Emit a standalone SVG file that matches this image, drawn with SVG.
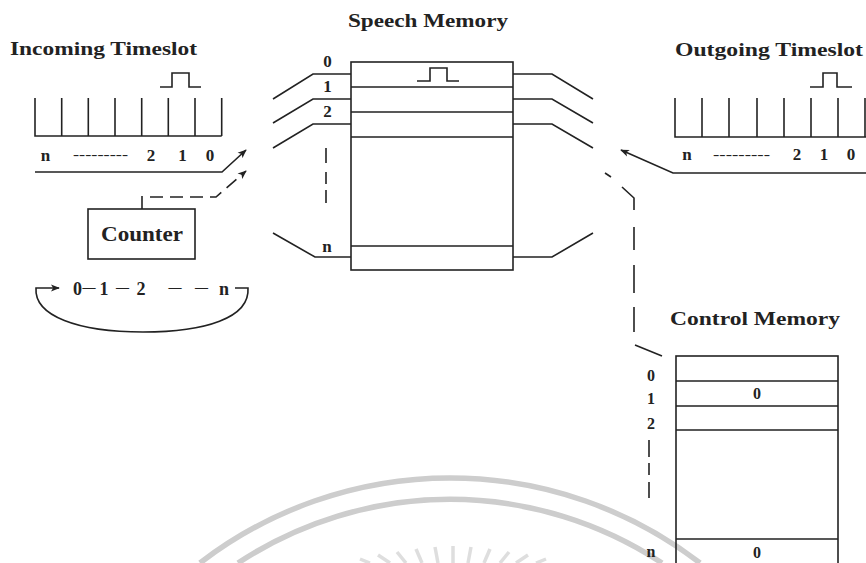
<svg xmlns="http://www.w3.org/2000/svg" width="866" height="563" viewBox="0 0 866 563">
<style>
.t{font-family:"Liberation Serif","Times New Roman",serif;font-weight:bold;fill:#222}
.ln{fill:none;stroke:#222;stroke-width:1.6}
.box{fill:none;stroke:#222;stroke-width:1.6}
.wm{fill:none;stroke:#cdcdcd;stroke-width:5.5}
.ray{stroke:#dedede;stroke-width:3.5}
</style>
<defs>
<marker id="ah" viewBox="0 0 10 10" refX="9" refY="5" markerWidth="9" markerHeight="9" markerUnits="userSpaceOnUse" orient="auto">
<path d="M0,1 L10,5 L0,9 L2.5,5 Z" fill="#222"/>
</marker>
</defs>
<rect width="866" height="563" fill="#fff"/>
<g id="watermark">
<path class="wm" d="M200,563 A410,410 0 0 1 700,563"/>
<path class="wm" d="M238,563 A385,385 0 0 1 662,563"/>
<g class="ray">
<line x1="453" y1="546" x2="453" y2="563"/>
<line x1="435" y1="547" x2="438" y2="563"/>
<line x1="471" y1="547" x2="468" y2="563"/>
<line x1="416" y1="549" x2="422" y2="563"/>
<line x1="490" y1="549" x2="484" y2="563"/>
<line x1="397" y1="552" x2="406" y2="563"/>
<line x1="509" y1="552" x2="500" y2="563"/>
<line x1="378" y1="555" x2="390" y2="563"/>
<line x1="528" y1="555" x2="516" y2="563"/>
<line x1="360" y1="559" x2="370" y2="563"/>
<line x1="546" y1="559" x2="536" y2="563"/>
</g>
</g>
<g id="incoming-timeslot">
<text class="t" x="10" y="55" font-size="18" textLength="187" lengthAdjust="spacingAndGlyphs">Incoming Timeslot</text>
<path class="ln" d="M35,98 V136 H221.7 M61.7,98 V136 M88.3,98 V136 M115,98 V136 M141.7,98 V136 M168.3,98 V136 M195,98 V136 M221.7,98 V136"/>
<path class="ln" d="M160,87 H172 V73 H189 V87 H201"/>
<text class="t" font-size="17" text-anchor="middle" y="161"><tspan x="45.5">n</tspan><tspan x="151">2</tspan><tspan x="182.5">1</tspan><tspan x="210">0</tspan></text>
<text class="t" x="73" y="159" font-size="12" textLength="55" lengthAdjust="spacingAndGlyphs">---------</text>
</g>
<g id="counter">
<rect class="box" x="88" y="209" width="107" height="50"/>
<text class="t" x="101" y="241" font-size="20" textLength="82" lengthAdjust="spacingAndGlyphs">Counter</text>
</g>
<g id="counter-sequence">
<g class="t" font-size="18" text-anchor="middle">
<text x="77.5" y="295">0</text>
<text x="104" y="295">1</text>
<text x="141" y="295">2</text>
<text x="224" y="295">n</text>
</g>
<g class="t" font-size="13" text-anchor="middle">
<text x="89" y="290.5">—</text>
<text x="122.5" y="290.5">—</text>
<text x="175" y="290.5">—</text>
<text x="201.5" y="290.5">—</text>
</g>
<path class="ln" d="M235,288 H248 C250,318 205,332 143,332 C78,332 34,316 36,288 H59" marker-end="url(#ah)"/>
</g>
<g id="speech-memory">
<text class="t" x="348" y="27" font-size="18" textLength="160" lengthAdjust="spacingAndGlyphs">Speech Memory</text>
<rect class="box" x="351" y="62" width="162" height="208"/>
<path class="ln" d="M351,87 H513 M351,112 H513 M351,137 H513 M351,246 H513"/>
<path class="ln" d="M417,81 H430 V68 H447 V81 H459"/>
<g class="t" font-size="17" text-anchor="middle">
<text x="327.5" y="67">0</text>
<text x="327.5" y="92">1</text>
<text x="327.5" y="117">2</text>
<text x="327" y="252">n</text>
</g>
<path class="ln" d="M326,148 V163 M326,172 V184 M326,190 V203"/>
</g>
<g id="incoming-outgoing-slots">
<path class="ln" d="M351,74 H313 L273,99 M351,99 H313 L273,123 M351,124 H313 L273,148 M351,257 H315 L273,233"/>
<path class="ln" d="M513,74 H552 L593,99 M513,99 H552 L593,123 M513,124 H552 L593,148 M513,257 H552 L593,233"/>
</g>
<g id="outgoing-timeslot">
<text class="t" x="675" y="56" font-size="18" textLength="188" lengthAdjust="spacingAndGlyphs">Outgoing Timeslot</text>
<path class="ln" d="M675,98 V137 H866 M702,98 V137 M729,98 V137 M757,98 V137 M784,98 V137 M811,98 V137 M838,98 V137 M865,98 V137"/>
<path class="ln" d="M810,87 H823 V73 H837 V87 H852"/>
<text class="t" font-size="17" text-anchor="middle" y="160"><tspan x="687">n</tspan><tspan x="797">2</tspan><tspan x="824">1</tspan><tspan x="851">0</tspan></text>
<text class="t" x="713" y="159" font-size="12" textLength="57" lengthAdjust="spacingAndGlyphs">---------</text>
</g>
<g id="control-memory">
<text class="t" x="670" y="325" font-size="18" textLength="170" lengthAdjust="spacingAndGlyphs">Control Memory</text>
<rect class="box" x="676" y="356" width="162" height="215"/>
<path class="ln" d="M676,381 H838 M676,406 H838 M676,430 H838 M676,539 H838"/>
<g class="t" font-size="16" text-anchor="middle">
<text x="757" y="399">0</text>
<text x="757" y="558">0</text>
<text x="651" y="381">0</text>
<text x="651" y="404">1</text>
<text x="651" y="429">2</text>
<text x="651" y="557">n</text>
</g>
<path class="ln" d="M649,440 V457 M649,463 V475 M649,482 V498"/>
</g>
<g id="connectors">
<path class="ln" d="M35,172 H222 L246,150" marker-end="url(#ah)"/>
<path class="ln" d="M142,209 V196"/>
<path class="ln" d="M150,197 H216 L246,171" stroke-dasharray="13 7" marker-end="url(#ah)"/>
<path class="ln" d="M866,173 H673 L621,150" marker-end="url(#ah)"/>
<path class="ln" d="M662,356 L635,345 M634,332 V307 M634,293 V265 M634,250 V227 M634,210 V198 L622,187 M611,177 L605,173"/>
</g>
</svg>
